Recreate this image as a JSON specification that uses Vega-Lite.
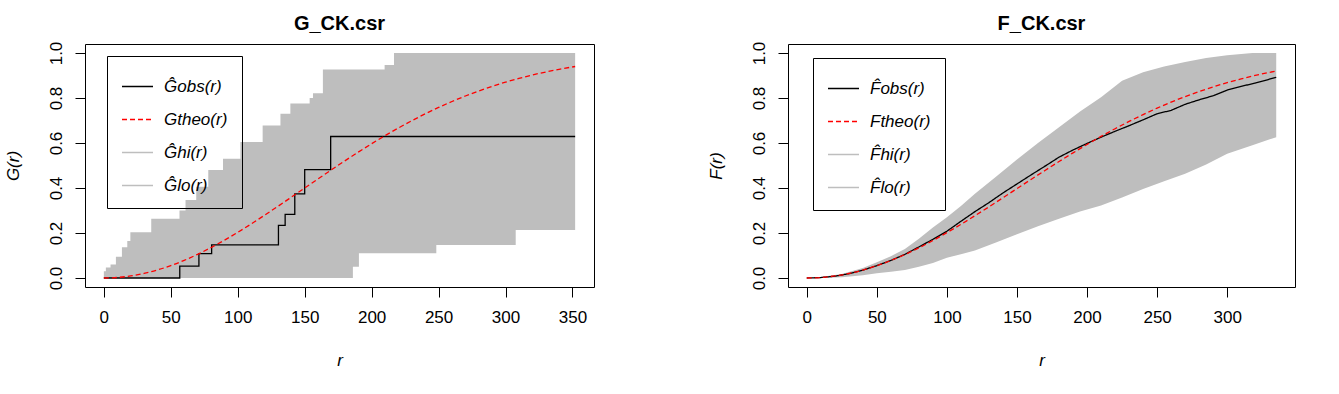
{
  "$schema": "https://vega.github.io/schema/vega-lite/v6.json",
  "background": "white",
  "padding": {"left": 3, "top": 13, "right": 5, "bottom": 5},
  "datasets": {
    "gEnv": [
      {"r": 0, "lo": 0, "hi": 0.03},
      {"r": 1.5, "lo": 0, "hi": 0.047},
      {"r": 5, "lo": 0, "hi": 0.06},
      {"r": 9, "lo": 0, "hi": 0.095},
      {"r": 13.5, "lo": 0, "hi": 0.137},
      {"r": 17.5, "lo": 0, "hi": 0.165},
      {"r": 19.8, "lo": 0, "hi": 0.203},
      {"r": 35.4, "lo": 0, "hi": 0.263},
      {"r": 56.5, "lo": 0, "hi": 0.3},
      {"r": 61, "lo": 0, "hi": 0.347},
      {"r": 69, "lo": 0, "hi": 0.406},
      {"r": 78, "lo": 0, "hi": 0.48},
      {"r": 89, "lo": 0, "hi": 0.53},
      {"r": 102, "lo": 0, "hi": 0.605},
      {"r": 118.6, "lo": 0, "hi": 0.678},
      {"r": 131.9, "lo": 0, "hi": 0.73},
      {"r": 139.3, "lo": 0, "hi": 0.776},
      {"r": 153.7, "lo": 0, "hi": 0.8},
      {"r": 156.2, "lo": 0, "hi": 0.821},
      {"r": 163.6, "lo": 0, "hi": 0.927},
      {"r": 186, "lo": 0.05, "hi": 0.927},
      {"r": 190.5, "lo": 0.11, "hi": 0.927},
      {"r": 209.7, "lo": 0.11, "hi": 0.947},
      {"r": 216.7, "lo": 0.11, "hi": 1.0},
      {"r": 248.3, "lo": 0.147, "hi": 1.0},
      {"r": 307.6, "lo": 0.213, "hi": 1.0},
      {"r": 352, "lo": 0.213, "hi": 1.0}
    ],
    "gCurves": [
      {"kind": "obs", "r": 0, "v": 0},
      {"kind": "obs", "r": 56.7, "v": 0.053},
      {"kind": "obs", "r": 71, "v": 0.108},
      {"kind": "obs", "r": 80.5, "v": 0.147},
      {"kind": "obs", "r": 130.4, "v": 0.234},
      {"kind": "obs", "r": 135.4, "v": 0.283},
      {"kind": "obs", "r": 142.6, "v": 0.374},
      {"kind": "obs", "r": 150, "v": 0.482},
      {"kind": "obs", "r": 169.4, "v": 0.629},
      {"kind": "obs", "r": 352, "v": 0.629},
      {"kind": "theo", "r": 0, "v": 0},
      {"kind": "theo", "r": 10, "v": 0.0023},
      {"kind": "theo", "r": 20, "v": 0.009},
      {"kind": "theo", "r": 30, "v": 0.0202},
      {"kind": "theo", "r": 40, "v": 0.0357},
      {"kind": "theo", "r": 50, "v": 0.0552},
      {"kind": "theo", "r": 60, "v": 0.0785},
      {"kind": "theo", "r": 70, "v": 0.1053},
      {"kind": "theo", "r": 80, "v": 0.1352},
      {"kind": "theo", "r": 90, "v": 0.168},
      {"kind": "theo", "r": 100, "v": 0.2031},
      {"kind": "theo", "r": 110, "v": 0.2402},
      {"kind": "theo", "r": 120, "v": 0.2789},
      {"kind": "theo", "r": 130, "v": 0.3186},
      {"kind": "theo", "r": 140, "v": 0.3591},
      {"kind": "theo", "r": 150, "v": 0.3999},
      {"kind": "theo", "r": 160, "v": 0.4407},
      {"kind": "theo", "r": 170, "v": 0.4811},
      {"kind": "theo", "r": 180, "v": 0.5207},
      {"kind": "theo", "r": 190, "v": 0.5593},
      {"kind": "theo", "r": 200, "v": 0.5967},
      {"kind": "theo", "r": 210, "v": 0.6325},
      {"kind": "theo", "r": 220, "v": 0.6667},
      {"kind": "theo", "r": 230, "v": 0.699},
      {"kind": "theo", "r": 240, "v": 0.7295},
      {"kind": "theo", "r": 250, "v": 0.758},
      {"kind": "theo", "r": 260, "v": 0.7845},
      {"kind": "theo", "r": 270, "v": 0.8089},
      {"kind": "theo", "r": 280, "v": 0.8313},
      {"kind": "theo", "r": 290, "v": 0.8518},
      {"kind": "theo", "r": 300, "v": 0.8704},
      {"kind": "theo", "r": 310, "v": 0.8872},
      {"kind": "theo", "r": 320, "v": 0.9022},
      {"kind": "theo", "r": 330, "v": 0.9156},
      {"kind": "theo", "r": 340, "v": 0.9275},
      {"kind": "theo", "r": 352, "v": 0.94}
    ],
    "fEnv": [
      {"r": 0, "lo": 0, "hi": 0},
      {"r": 10, "lo": 0, "hi": 0.004},
      {"r": 25, "lo": 0.003, "hi": 0.018},
      {"r": 40, "lo": 0.012, "hi": 0.045},
      {"r": 50, "lo": 0.021, "hi": 0.07},
      {"r": 60, "lo": 0.028, "hi": 0.097},
      {"r": 70, "lo": 0.036, "hi": 0.129},
      {"r": 80, "lo": 0.05, "hi": 0.175},
      {"r": 90, "lo": 0.067, "hi": 0.225},
      {"r": 100, "lo": 0.09, "hi": 0.27},
      {"r": 110, "lo": 0.106, "hi": 0.32},
      {"r": 120, "lo": 0.122, "hi": 0.374},
      {"r": 135, "lo": 0.158, "hi": 0.45},
      {"r": 150, "lo": 0.195, "hi": 0.527},
      {"r": 165, "lo": 0.23, "hi": 0.6},
      {"r": 180, "lo": 0.263, "hi": 0.67},
      {"r": 195, "lo": 0.296, "hi": 0.74},
      {"r": 210, "lo": 0.322, "hi": 0.803},
      {"r": 225, "lo": 0.358, "hi": 0.877},
      {"r": 240, "lo": 0.396, "hi": 0.914},
      {"r": 255, "lo": 0.43, "hi": 0.94},
      {"r": 270, "lo": 0.463, "hi": 0.96},
      {"r": 285, "lo": 0.505, "hi": 0.978},
      {"r": 300, "lo": 0.552, "hi": 0.99},
      {"r": 318, "lo": 0.59, "hi": 1.0},
      {"r": 335, "lo": 0.626, "hi": 1.0}
    ],
    "fCurves": [
      {"kind": "obs", "r": 0, "v": 0},
      {"kind": "obs", "r": 10, "v": 0.002},
      {"kind": "obs", "r": 20, "v": 0.008},
      {"kind": "obs", "r": 30, "v": 0.019},
      {"kind": "obs", "r": 40, "v": 0.035},
      {"kind": "obs", "r": 50, "v": 0.055},
      {"kind": "obs", "r": 60, "v": 0.078},
      {"kind": "obs", "r": 70, "v": 0.105},
      {"kind": "obs", "r": 80, "v": 0.138},
      {"kind": "obs", "r": 90, "v": 0.172},
      {"kind": "obs", "r": 100, "v": 0.208},
      {"kind": "obs", "r": 110, "v": 0.252},
      {"kind": "obs", "r": 120, "v": 0.295},
      {"kind": "obs", "r": 130, "v": 0.335},
      {"kind": "obs", "r": 140, "v": 0.378},
      {"kind": "obs", "r": 150, "v": 0.418},
      {"kind": "obs", "r": 160, "v": 0.458},
      {"kind": "obs", "r": 170, "v": 0.497},
      {"kind": "obs", "r": 180, "v": 0.537},
      {"kind": "obs", "r": 190, "v": 0.569},
      {"kind": "obs", "r": 200, "v": 0.598},
      {"kind": "obs", "r": 210, "v": 0.626},
      {"kind": "obs", "r": 220, "v": 0.652},
      {"kind": "obs", "r": 230, "v": 0.677},
      {"kind": "obs", "r": 240, "v": 0.703},
      {"kind": "obs", "r": 250, "v": 0.73},
      {"kind": "obs", "r": 260, "v": 0.745},
      {"kind": "obs", "r": 270, "v": 0.772},
      {"kind": "obs", "r": 280, "v": 0.792},
      {"kind": "obs", "r": 290, "v": 0.81},
      {"kind": "obs", "r": 300, "v": 0.835},
      {"kind": "obs", "r": 310, "v": 0.852},
      {"kind": "obs", "r": 320, "v": 0.866},
      {"kind": "obs", "r": 335, "v": 0.892},
      {"kind": "theo", "r": 0, "v": 0},
      {"kind": "theo", "r": 10, "v": 0.0023},
      {"kind": "theo", "r": 20, "v": 0.009},
      {"kind": "theo", "r": 30, "v": 0.02},
      {"kind": "theo", "r": 40, "v": 0.0354},
      {"kind": "theo", "r": 50, "v": 0.0547},
      {"kind": "theo", "r": 60, "v": 0.0778},
      {"kind": "theo", "r": 70, "v": 0.1044},
      {"kind": "theo", "r": 80, "v": 0.1341},
      {"kind": "theo", "r": 90, "v": 0.1666},
      {"kind": "theo", "r": 100, "v": 0.2015},
      {"kind": "theo", "r": 110, "v": 0.2383},
      {"kind": "theo", "r": 120, "v": 0.2767},
      {"kind": "theo", "r": 130, "v": 0.3163},
      {"kind": "theo", "r": 140, "v": 0.3566},
      {"kind": "theo", "r": 150, "v": 0.3972},
      {"kind": "theo", "r": 160, "v": 0.4379},
      {"kind": "theo", "r": 170, "v": 0.4781},
      {"kind": "theo", "r": 180, "v": 0.5176},
      {"kind": "theo", "r": 190, "v": 0.5561},
      {"kind": "theo", "r": 200, "v": 0.5934},
      {"kind": "theo", "r": 210, "v": 0.6293},
      {"kind": "theo", "r": 220, "v": 0.6634},
      {"kind": "theo", "r": 230, "v": 0.6958},
      {"kind": "theo", "r": 240, "v": 0.7264},
      {"kind": "theo", "r": 250, "v": 0.755},
      {"kind": "theo", "r": 260, "v": 0.7815},
      {"kind": "theo", "r": 270, "v": 0.8061},
      {"kind": "theo", "r": 280, "v": 0.8287},
      {"kind": "theo", "r": 290, "v": 0.8493},
      {"kind": "theo", "r": 300, "v": 0.868},
      {"kind": "theo", "r": 310, "v": 0.8849},
      {"kind": "theo", "r": 320, "v": 0.9001},
      {"kind": "theo", "r": 335, "v": 0.92}
    ]
  },
  "spacing": 111,
  "resolve": {
    "scale": {"color": "independent", "strokeDash": "independent", "x": "independent", "y": "independent"},
    "legend": {"color": "independent", "strokeDash": "independent"}
  },
  "hconcat": [
    {
      "width": 509,
      "height": 243,
      "title": {"text": "G_CK.csr"},
      "layer": [
        {
          "data": {"name": "gEnv"},
          "mark": {"type": "area", "interpolate": "step-after", "color": "#bebebe", "opacity": 1},
          "encoding": {
            "x": {"field": "r", "type": "quantitative", "scale": {"domain": [-14.08, 366.08], "nice": false, "zero": false},
                  "axis": {"values": [0, 50, 100, 150, 200, 250, 300, 350], "title": "r"}},
            "y": {"field": "lo", "type": "quantitative", "scale": {"domain": [-0.04, 1.04], "nice": false, "zero": false},
                  "axis": {"values": [0, 0.2, 0.4, 0.6, 0.8, 1.0], "format": ".1f", "title": "G(r)"}},
            "y2": {"field": "hi"}
          }
        },
        {
          "data": {"name": "gCurves"},
          "transform": [{"filter": {"field": "kind", "equal": "obs"}}],
          "mark": {"type": "line", "interpolate": "step-after", "strokeWidth": 1.3},
          "encoding": {
            "x": {"field": "r", "type": "quantitative"},
            "y": {"field": "v", "type": "quantitative"},
            "color": {"field": "kind", "type": "nominal",
              "scale": {"domain": ["obs", "theo", "hi", "lo"], "range": ["#000000", "#ff0000", "#bebebe", "#bebebe"]},
              "legend": {"orient": "none", "legendX": 22, "legendY": 12, "title": null,
                "labelExpr": "datum.label === 'obs' ? 'Ĝobs(r)' : datum.label === 'theo' ? 'Gtheo(r)' : datum.label === 'hi' ? 'Ĝhi(r)' : 'Ĝlo(r)'"}},
            "strokeDash": {"field": "kind", "type": "nominal",
              "scale": {"domain": ["obs", "theo", "hi", "lo"], "range": [[1, 0], [5, 3], [1, 0], [1, 0]]},
              "legend": {"orient": "none", "legendX": 22, "legendY": 12, "title": null,
                "labelExpr": "datum.label === 'obs' ? 'Ĝobs(r)' : datum.label === 'theo' ? 'Gtheo(r)' : datum.label === 'hi' ? 'Ĝhi(r)' : 'Ĝlo(r)'"}}
          }
        },
        {
          "data": {"name": "gCurves"},
          "transform": [{"filter": {"field": "kind", "equal": "theo"}}],
          "mark": {"type": "line", "interpolate": "monotone", "strokeWidth": 1.3},
          "encoding": {
            "x": {"field": "r", "type": "quantitative"},
            "y": {"field": "v", "type": "quantitative"},
            "color": {"field": "kind", "type": "nominal"},
            "strokeDash": {"field": "kind", "type": "nominal"}
          }
        }
      ]
    },
    {
      "width": 507,
      "height": 243,
      "title": {"text": "F_CK.csr"},
      "layer": [
        {
          "data": {"name": "fEnv"},
          "mark": {"type": "area", "color": "#bebebe", "opacity": 1},
          "encoding": {
            "x": {"field": "r", "type": "quantitative", "scale": {"domain": [-13.4, 348.4], "nice": false, "zero": false},
                  "axis": {"values": [0, 50, 100, 150, 200, 250, 300], "title": "r"}},
            "y": {"field": "lo", "type": "quantitative", "scale": {"domain": [-0.04, 1.04], "nice": false, "zero": false},
                  "axis": {"values": [0, 0.2, 0.4, 0.6, 0.8, 1.0], "format": ".1f", "title": "F(r)"}},
            "y2": {"field": "hi"}
          }
        },
        {
          "data": {"name": "fCurves"},
          "transform": [{"filter": {"field": "kind", "equal": "obs"}}],
          "mark": {"type": "line", "strokeWidth": 1.3},
          "encoding": {
            "x": {"field": "r", "type": "quantitative"},
            "y": {"field": "v", "type": "quantitative"},
            "color": {"field": "kind", "type": "nominal",
              "scale": {"domain": ["obs", "theo", "hi", "lo"], "range": ["#000000", "#ff0000", "#bebebe", "#bebebe"]},
              "legend": {"orient": "none", "legendX": 25, "legendY": 14, "title": null,
                "labelExpr": "datum.label === 'obs' ? 'F̂obs(r)' : datum.label === 'theo' ? 'Ftheo(r)' : datum.label === 'hi' ? 'F̂hi(r)' : 'F̂lo(r)'"}},
            "strokeDash": {"field": "kind", "type": "nominal",
              "scale": {"domain": ["obs", "theo", "hi", "lo"], "range": [[1, 0], [5, 3], [1, 0], [1, 0]]},
              "legend": {"orient": "none", "legendX": 25, "legendY": 14, "title": null,
                "labelExpr": "datum.label === 'obs' ? 'F̂obs(r)' : datum.label === 'theo' ? 'Ftheo(r)' : datum.label === 'hi' ? 'F̂hi(r)' : 'F̂lo(r)'"}}
          }
        },
        {
          "data": {"name": "fCurves"},
          "transform": [{"filter": {"field": "kind", "equal": "theo"}}],
          "mark": {"type": "line", "interpolate": "monotone", "strokeWidth": 1.3},
          "encoding": {
            "x": {"field": "r", "type": "quantitative"},
            "y": {"field": "v", "type": "quantitative"},
            "color": {"field": "kind", "type": "nominal"},
            "strokeDash": {"field": "kind", "type": "nominal"}
          }
        }
      ]
    }
  ],
  "config": {
    "view": {"stroke": "#000000", "strokeWidth": 1},
    "title": {"font": "Liberation Sans", "fontSize": 20, "fontWeight": "bold", "color": "#000000", "anchor": "middle", "frame": "group", "baseline": "alphabetic", "offset": 7},
    "axis": {
      "domain": false, "grid": false, "ticks": true, "tickColor": "#000000", "tickSize": 10, "tickWidth": 1,
      "labelFont": "Liberation Sans", "labelFontSize": 17, "labelColor": "#000000",
      "titleFont": "Liberation Sans", "titleFontSize": 17, "titleFontWeight": "normal", "titleFontStyle": "italic", "titleColor": "#000000"
    },
    "axisX": {"labelPadding": 12, "titlePadding": 27},
    "axisY": {"labelAngle": -90, "labelAlign": "center", "labelBaseline": "bottom", "labelPadding": 10, "titlePadding": 25},
    "legend": {
      "symbolType": "stroke", "symbolSize": 961, "symbolStrokeWidth": 1.3,
      "strokeColor": "#000000", "padding": 14, "rowPadding": 8, "labelOffset": 10,
      "labelFont": "Liberation Sans", "labelFontSize": 17, "labelColor": "#000000", "labelFontStyle": "italic", "labelLimit": 300
    }
  }
}
